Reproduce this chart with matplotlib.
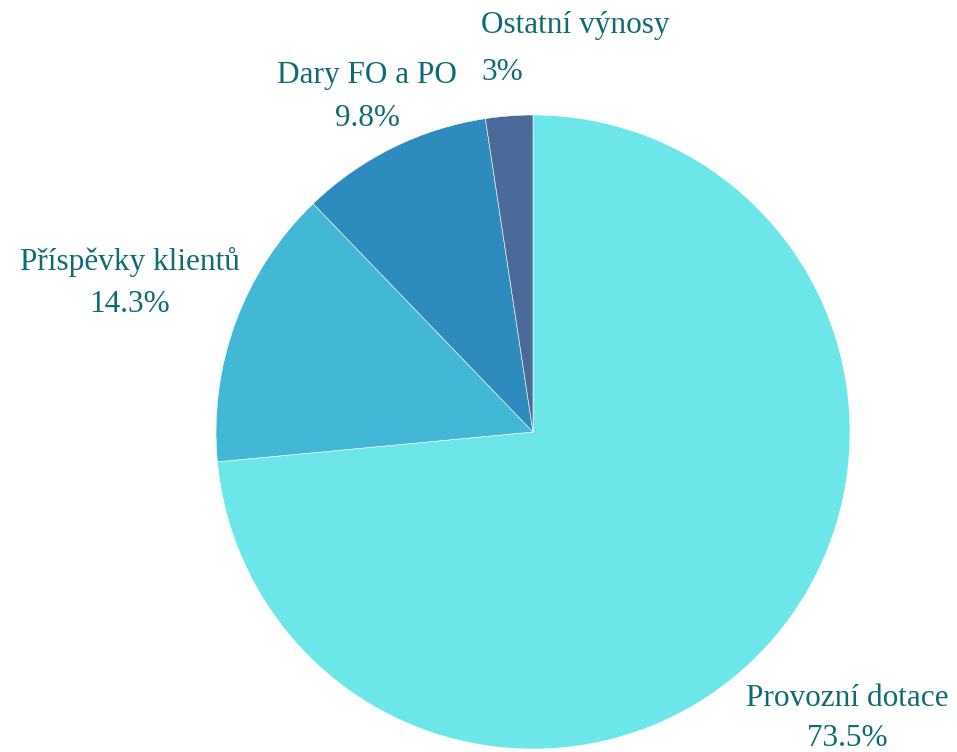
"""
Pie chart of income structure (Czech labels)
"""

import matplotlib.pyplot as plt

# data
categories = ["Provozní dotace", "Příspěvky klientů", "Dary FO a PO", "Ostatní výnosy"]
values = [73.5, 14.3, 9.8, 2.4]
pct_labels = ["73.5%", "14.3%", "9.8%", "3%"]
colors = ["#6ce6e9", "#42b7d6", "#2e8bbd", "#4c6a99"]

# label layout in pixels: (x, y of name line, y of pct line, alignment)
label_layout = [
    (847, 698, 738, "center"),
    (130, 262, 305, "center"),
    (367, 75, 119, "center"),
    (481, 26, 72, "left"),
]

W, H = 957, 752
text_color = "#0f6b73"


def main():
    fig = plt.figure(figsize=(W / 100, H / 100), dpi=100)
    ax = fig.add_axes([0, 0, 1, 1])
    ax.set_xlim(0, W)
    ax.set_ylim(0, H)
    ax.set_aspect("equal")
    ax.axis("off")

    ax.pie(values, colors=colors, startangle=90, counterclock=False,
           radius=317, center=(533, H - 432),
           wedgeprops=dict(edgecolor="white", linewidth=0.4))
    ax.set_xlim(0, W)
    ax.set_ylim(0, H)

    for name, pct, (x, y1, y2, ha) in zip(categories, pct_labels, label_layout):
        ax.text(x, H - y1, name, ha=ha, va="center", fontsize=22.5,
                family="Liberation Serif", color=text_color)
        ax.text(x, H - y2, pct, ha=ha, va="center", fontsize=22.5,
                family="Liberation Serif", color=text_color)

    fig.savefig("out.png", dpi=100)
    return 0


if __name__ == '__main__':
    main()
